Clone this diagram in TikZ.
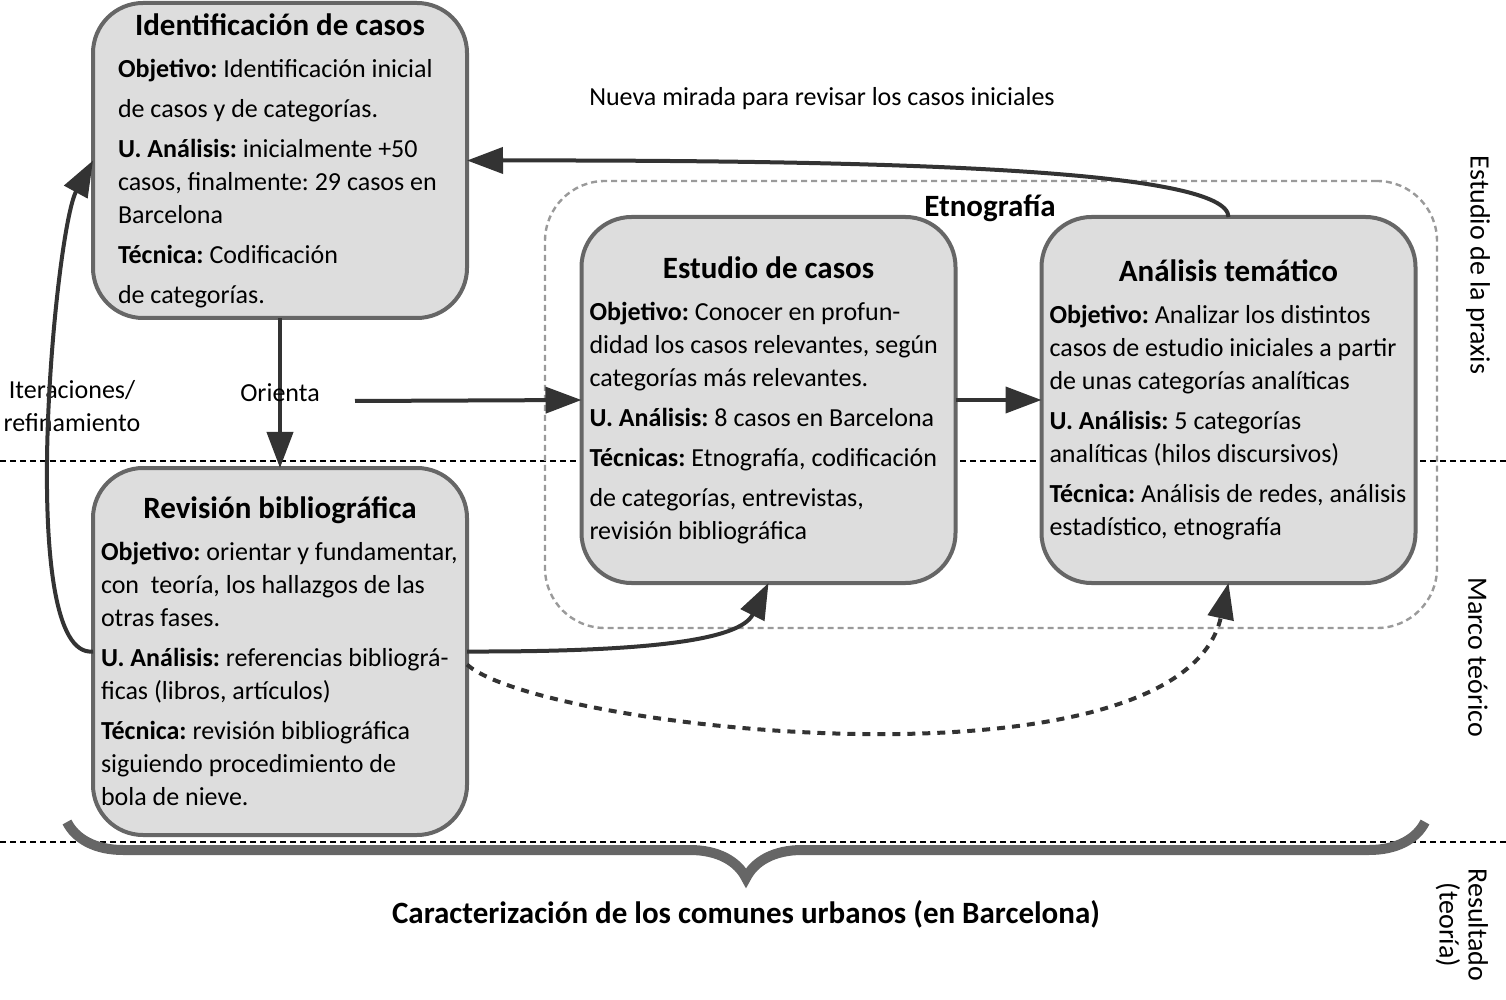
\documentclass[tikz,border=0pt]{standalone}
\usepackage{fontspec}
\setmainfont{Carlito}
\usetikzlibrary{arrows.meta,calc,positioning,decorations.pathreplacing}

\definecolor{cajagris}{HTML}{DDDDDD}
\definecolor{bordegris}{HTML}{666666}
\definecolor{flechagris}{HTML}{333333}
\definecolor{etnogris}{HTML}{9A9A9A}

\frenchspacing
\hyphenpenalty=10000
\exhyphenpenalty=10000

\newcommand{\titulo}[1]{\spaceskip=0pt\xspaceskip=0pt{\centering\fontsize{15.5}{18}\selectfont\bfseries #1\par}\vspace{4.5pt}}

\begin{document}
\begin{tikzpicture}[x=0.5pt,y=-0.5pt,
    font=\fontsize{13}{16.5}\selectfont,
    fase/.style={rectangle, rounded corners=25pt, draw=bordegris, line width=2pt, fill=cajagris, minimum width=187pt, outer sep=0pt, inner sep=2pt, text width=179pt, align=left},
    flecha/.style={draw=flechagris, line width=2pt, -{Triangle[length=18pt,width=13pt]}},
    guia/.style={dash pattern=on 3pt off 2pt, line width=1pt}]
    \useasboundingbox (0,0) rectangle (1506,1000);

    % lineas de nivel
    \coordinate (nivelA1) at (0,461);
    \coordinate (nivelA2) at (1506,461);
    \coordinate (nivelB1) at (0,842);
    \coordinate (nivelB2) at (1506,842);
    \draw[guia] (nivelA1) -- (nivelA2);
    \draw[guia] (nivelB1) -- (nivelB2);

    % etnografia
    \node(etno) [rectangle, rounded corners=30pt, draw=etnogris, line width=1.2pt, dash pattern=on 3pt off 2pt, minimum width=446pt, minimum height=223.5pt] at (991,404.5) {};
    \node(etnotit) [font=\fontsize{15.5}{18}\selectfont\bfseries] at (990,208) {Etnografía};

    % fases
    \node(ident) [fase, text width=162pt, minimum height=157.5pt] at (280,160.5) {\titulo{Identificación de casos}
        \textbf{Objetivo:} Identificación inicial\\[3.5pt]
        de casos y de categorías.\\[3.5pt]
        \textbf{U. Análisis:} inicialmente +50\\
        casos, finalmente: 29 casos en\\
        Barcelona\\[3.5pt]
        \textbf{Técnica:} Codificación\\[3.5pt]
        de categorías.};
    \node(revision) [fase, minimum height=183.5pt, below=75pt of ident] {\titulo{Revisión bibliográfica}
        \textbf{Objetivo:} orientar y fundamentar,\\
        con\ \ teoría, los hallazgos de las\\
        otras fases.\\[3.5pt]
        \textbf{U. Análisis:} referencias bibliográ-\\
        ficas (libros, artículos)\\[3.5pt]
        \textbf{Técnica:} revisión bibliográfica\\
        siguiendo procedimiento de\\
        bola de nieve.};
    \node(estudio) [fase, minimum height=183pt] at (768.5,400) {\titulo{Estudio de casos}
        \textbf{Objetivo:} Conocer en profun-\\
        didad los casos relevantes, según\\
        categorías más relevantes.\\[3.5pt]
        \textbf{U. Análisis:} 8 casos en Barcelona\\[3.5pt]
        \textbf{Técnicas:} Etnografía, codificación\\[3.5pt]
        de categorías, entrevistas,\\
        revisión bibliográfica};
    \node(analisis) [fase, minimum height=183pt, right=43pt of estudio] {\titulo{Análisis temático}
        \textbf{Objetivo:} Analizar los distintos\\
        casos de estudio iniciales a partir\\
        de unas categorías analíticas\\[3.5pt]
        \textbf{U. Análisis:} 5 categorías\\
        analíticas (hilos discursivos)\\[3.5pt]
        \textbf{Técnica:} Análisis de redes, análisis\\
        estadístico, etnografía};

    % textos sueltos
    \node(nueva) at (822,99) {Nueva mirada para revisar los casos iniciales};
    \node(iter) [align=center] at (72,406) {Iteraciones/\\refinamiento};
    \node(praxis) [rotate=-90, font=\fontsize{14}{16.5}\selectfont] at (1478,265) {Estudio de la praxis};
    \node(marco) [rotate=-90, font=\fontsize{14}{16.5}\selectfont] at (1478,657) {Marco teórico};
    \node(teoria) [rotate=-90, align=center, font=\fontsize{14}{14.5}\selectfont] at (1462,925) {Resultado\\(teoría)};
    \node(resultado) [font=\fontsize{15.5}{18}\selectfont\bfseries] at (746,914) {Caracterización de los comunes urbanos (en Barcelona)};

    % flechas
    \coordinate (orientaFin) at (355,401);
    \draw[flecha] (ident) -- node(orienta) {Orienta} (revision);
    \draw[flecha] (orientaFin) -- (estudio.west);
    \draw[flecha] (estudio) -- (analisis);
    \draw[flecha] (analisis.north) .. controls (1228,170) and (900,160) .. (ident.east);
    \draw[flecha] (revision.west) .. controls (15,660) and (55,230) .. (ident.west);
    \draw[flecha] (revision.east) .. controls (650,652) and (740,640) .. (estudio.south);
    \draw[flecha, dash pattern=on 4pt off 3.5pt] (revision.-4) .. controls (540,730) and (1180,800) .. (analisis.south);

    % llave
    \coordinate (llaveIzq) at (67,822);
    \coordinate (llaveDer) at (1425,822);
    \draw[bordegris, line width=5pt, decorate, decoration={brace, mirror, amplitude=28pt}] (llaveIzq) -- (llaveDer);
\end{tikzpicture}
\end{document}
